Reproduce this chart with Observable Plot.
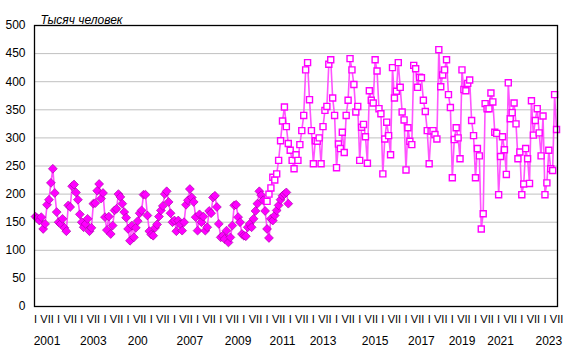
<!DOCTYPE html>
<html><head><meta charset="utf-8">
<script src="https://cdn.jsdelivr.net/npm/d3@7"></script>
<script src="https://cdn.jsdelivr.net/npm/@observablehq/plot@0.6"></script>
<style>html,body{margin:0;padding:0;background:#fff;}</style>
</head><body><div id="chart"></div>
<script>
// ---- data (thousand persons, monthly) ----
const firstYear = 2001;
const unitLabel = "Тысяч человек";

// series 1 (diamonds): Jan 2001 – Dec 2011
const series1 = [
  160,157,153,159,138,147,181,190,220,245,202,168,  // 2001
  150,147,156,140,134,180,177,214,217,203,190,164,  // 2002
  150,141,147,156,134,140,183,184,206,218,192,202,  // 2003
  159,136,160,129,144,171,174,200,195,183,168,158,  // 2004
  138,117,144,123,140,152,166,171,199,199,162,134,  // 2005
  128,126,140,146,160,171,179,200,205,186,166,150,  // 2006
  153,134,153,146,135,150,181,189,209,194,186,159,  // 2007
  135,164,150,160,135,141,170,166,194,197,177,147,  // 2008
  123,126,120,135,114,123,144,180,181,159,150,129,  // 2009
  126,125,141,147,141,156,170,183,205,198,189,170,  // 2010
  138,122,156,153,162,171,180,190,197,200,203,183   // 2011
];
const series1StartYear = 2001;

// series 2 (squares): Jan 2011 – Jul 2023
const series2 = [
  187,200,211,230,225,236,260,295,330,355,320,290,  // 2011
  278,260,245,270,260,288,313,340,421,434,368,313,  // 2012
  254,295,294,300,254,320,349,356,431,439,371,340,  // 2013
  247,289,281,310,274,340,367,441,421,395,346,356,  // 2014
  260,319,324,302,255,384,367,362,439,419,352,343,  // 2015
  236,298,328,304,270,425,371,383,434,390,346,332,  // 2016
  243,318,294,288,429,423,390,408,407,367,347,313,  // 2017
  254,312,313,306,298,457,391,412,421,439,377,354,  // 2018
  229,297,318,300,263,421,386,384,397,403,331,304,  // 2019
  229,281,268,138,165,361,352,352,380,364,310,308,  // 2020
  199,267,302,279,235,398,334,345,362,325,263,275,  // 2021
  199,218,281,263,219,366,305,331,352,309,268,339,  // 2022
  199,220,278,245,242,377,315                       // 2023
];
const series2StartYear = 2011;

const yTicks = [0,50,100,150,200,250,300,350,400,450,500];
const monthLabels = ["I","VII"];
const yearLabels = ["2001","2003","200","2007","2009","2011","2013","2015","2017","2019","2021","2023"];
const yearLabelMonth = [6,30,53,80,105,128,149,176,200,221,241,266]; // month index along axis where each year label sits

// ---- derived tables ----
const d1 = series1.map((v,i)=>({t:(series1StartYear-firstYear)*12+i, v}));
const d2 = series2.map((v,i)=>({t:(series2StartYear-firstYear)*12+i, v}));
const nMonths = Math.max(d1[d1.length-1].t, d2[d2.length-1].t) + 1;
const monthTicks = [];
for (let k=0; k*12<nMonths; k++){
  monthTicks.push({t:k*12, label:monthLabels[0]});
  if (k*12+6<nMonths) monthTicks.push({t:k*12+6, label:monthLabels[1]});
}
const yearTicks = yearLabels.map((s,i)=>({t:yearLabelMonth[i], label:s}));

const font = "'Liberation Sans', Arial, sans-serif";
const chart = Plot.plot({
  width:572, height:362,
  marginTop:25, marginBottom:56, marginLeft:34, marginRight:15,
  style:{fontFamily:font, fontSize:"12px", color:"#000", background:"#fff"},
  x:{domain:[-0.5, nMonths-0.5], axis:null},
  y:{domain:[0,500], axis:null},
  marks:[
    Plot.ruleY(yTicks.filter(d=>d>0 && d<500), {stroke:"#c0c0c0", strokeWidth:1}),
    Plot.text(yTicks, {y:d=>d, frameAnchor:"left", textAnchor:"end", dx:-9, fontSize:12, fill:"#000"}),
    Plot.line(d1, {x:"t", y:"v", stroke:"#ff40ff", strokeWidth:1.6, strokeOpacity:0.9}),
    Plot.line(d2, {x:"t", y:"v", stroke:"#ff40ff", strokeWidth:1.6, strokeOpacity:0.9}),
    Plot.dot(d1, {x:"t", y:"v", symbol:"diamond2", r:4, fill:"#ff00ff", stroke:"#a000a0", strokeWidth:0.6}),
    Plot.dot(d2, {x:"t", y:"v", symbol:"square", r:3.4, fill:"#fff", stroke:"#ff00ff", strokeWidth:1.4}),
    Plot.frame({stroke:"#000", strokeWidth:1.3}),
    Plot.text(monthTicks, {x:"t", text:"label", frameAnchor:"bottom", dy:16, fontSize:11, fill:"#000"}),
    Plot.text(yearTicks, {x:"t", text:"label", frameAnchor:"bottom", dy:38, fontSize:12, fill:"#000"}),
    Plot.text([unitLabel], {frameAnchor:"top-left", dx:6, dy:-10, textAnchor:"start", fontStyle:"italic", fontSize:12, fill:"#000"})
  ]
});
document.getElementById("chart").appendChild(chart);
</script>
</body></html>
